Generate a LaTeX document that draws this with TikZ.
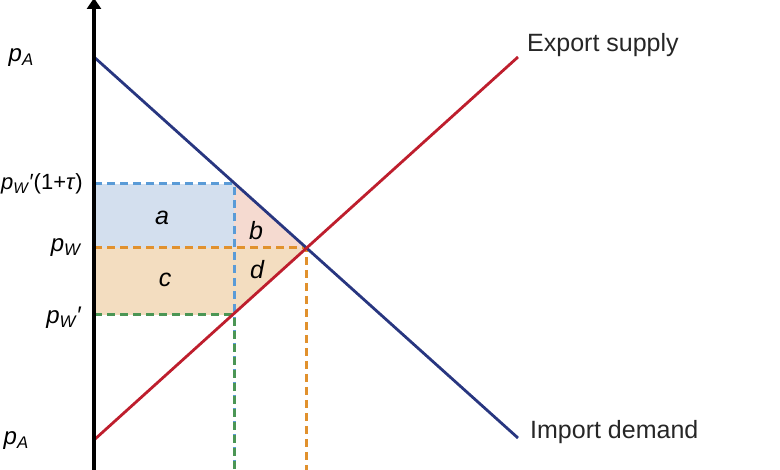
\documentclass[tikz,border=0pt]{standalone}
\usepackage{fontspec}
\setmainfont{Liberation Sans}
\usetikzlibrary{arrows.meta}
\definecolor{demandblue}{RGB}{40,54,128}
\definecolor{supplyred}{RGB}{190,30,45}
\definecolor{dashblue}{RGB}{90,155,215}
\definecolor{dashorange}{RGB}{225,145,45}
\definecolor{dashgreen}{RGB}{75,150,85}
\definecolor{fillblue}{RGB}{211,223,238}
\definecolor{fillpink}{RGB}{245,218,208}
\definecolor{fillorange}{RGB}{243,221,192}

\begin{document}
\begin{tikzpicture}[x=1pt,y=-1pt]
\def \axisx {94}
\def \qtau {234}
   \tikzset{curve/.style = {line width=2.8pt},
            guide/.style = {line width=3pt, dash pattern=on 8pt off 5pt},
            plabel/.style = {anchor=east, inner sep=0pt, font=\fontsize{24}{26}\selectfont},
            arealabel/.style = {inner sep=0pt, font=\fontsize{25}{27}\selectfont\itshape},
            curvelabel/.style = {anchor=west, inner sep=0pt, text=black!85, font=\fontsize{25}{27}\selectfont}}
\useasboundingbox (0,0) rectangle (780,470);

   \coordinate (O) at (\axisx,475);
   \coordinate (Top) at (\axisx,-2);
   \coordinate (DA) at (\axisx,57);
   \coordinate (DB) at (518,438);
   \coordinate (SA) at (\axisx,440);
   \coordinate (SB) at (518,57);
   \coordinate (E) at (306,248);
   \coordinate (T) at (\qtau,184);
   \coordinate (M) at (\qtau,248);
   \coordinate (L) at (\qtau,315);
   \coordinate (YT) at (\axisx,184);
   \coordinate (YW) at (\axisx,248);
   \coordinate (YL) at (\axisx,315);
   \coordinate (XT) at (\qtau,475);
   \coordinate (XE) at (306,475);

%  areas
   \fill[fillblue] (YT) rectangle (M);
   \fill[fillpink] (T) -- (E) -- (M) -- cycle;
   \fill[fillorange] (YW) -- (E) -- (L) -- (YL) -- cycle;

%  guides
   \draw[guide, dashblue] (YT) -- (T) -- (XT);
   \draw[guide, dashorange] (YW) -- (E) -- (XE);
   \draw[guide, dashgreen] (YL) -- (L) -- (XT);

%  curves
   \draw[curve, demandblue] (DA) -- (DB);
   \draw[curve, supplyred] (SA) -- (SB);
   \draw[line width=3.5pt, -{Triangle[width=14pt,length=11pt]}] (O) -- (Top);

   \node[plabel] (pAup) at (34,58) {\textit{p}\textsubscript{\textit{A}}};
   \node[plabel, font=\fontsize{22}{24}\selectfont] (pWtau) at (83,184) {\textit{p}\textsubscript{\textit{W}}′(1+\textit{τ})};
   \node[plabel] (pW) at (82,248) {\textit{p}\textsubscript{\textit{W}}};
   \node[plabel] (pWl) at (82,318) {\textit{p}\textsubscript{\textit{W}}′};
   \node[plabel] (pAdown) at (29,441) {\textit{p}\textsubscript{\textit{A}}};

   \node[arealabel] (a) at (162,218) {a};
   \node[arealabel] (b) at (256,231) {b};
   \node[arealabel] (c) at (165,280) {c};
   \node[arealabel] (d) at (257,270) {d};

   \node[curvelabel] (supply) at (527,45) {Export supply};
   \node[curvelabel] (demand) at (530,432) {Import demand};
\end{tikzpicture}
\end{document}
